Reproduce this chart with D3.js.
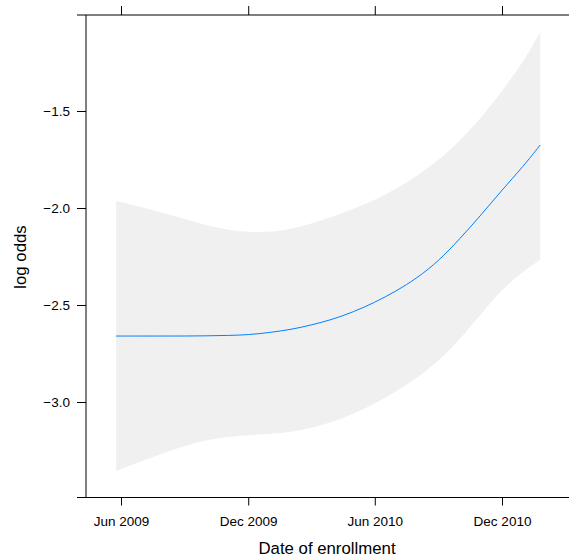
<!DOCTYPE html>
<html>
<head>
<meta charset="utf-8">
<script src="https://cdn.jsdelivr.net/npm/d3@7"></script>
<style>
  html, body { margin: 0; padding: 0; background: #fff; }
  svg { display: block; }
  text { font-family: "Liberation Sans", Arial, sans-serif; fill: #000; }
</style>
</head>
<body>
<svg id="chart" width="569" height="558"></svg>
<script>
// Smoothed effect of enrollment date on log odds, with confidence band
const dates = [
  "2009-05-25", "2009-07-01", "2009-08-01", "2009-09-01", "2009-10-01",
  "2009-11-01", "2009-12-01", "2010-01-01", "2010-02-01", "2010-03-01",
  "2010-04-01", "2010-05-01", "2010-06-01", "2010-07-01", "2010-08-01",
  "2010-09-01", "2010-10-01", "2010-11-01", "2010-12-01", "2011-01-01",
  "2011-01-25"
];
const fit = [
  -2.660, -2.660, -2.660, -2.660, -2.659,
  -2.657, -2.654, -2.642, -2.626, -2.604,
  -2.575, -2.536, -2.487, -2.430, -2.361,
  -2.273, -2.160, -2.036, -1.907, -1.784,
  -1.675
];
const upper = [
  -1.964, -1.995, -2.026, -2.057, -2.088,
  -2.113, -2.124, -2.124, -2.108, -2.082,
  -2.046, -2.005, -1.959, -1.902, -1.835,
  -1.753, -1.655, -1.536, -1.397, -1.247,
  -1.093
];
const lower = [
  -3.356, -3.304, -3.263, -3.227, -3.196,
  -3.180, -3.170, -3.165, -3.155, -3.134,
  -3.103, -3.062, -3.010, -2.948, -2.876,
  -2.789, -2.680, -2.546, -2.418, -2.325,
  -2.268
];
const xTickDates = ["2009-06-01", "2009-12-01", "2010-06-01", "2010-12-01"];
const xTickLabels = ["Jun 2009", "Dec 2009", "Jun 2010", "Dec 2010"];
const yTicks = [-1.5, -2.0, -2.5, -3.0];

const parse = d3.utcParse("%Y-%m-%d");
const rows = dates.map((d, i) => ({ date: parse(d), fit: fit[i], lo: lower[i], hi: upper[i] }));
const xTicks = xTickDates.map(parse);

const svg = d3.select("#chart");
const FONT = '"Liberation Sans", Arial, sans-serif';

const x = d3.scaleUtc()
  .domain([xTicks[0], xTicks[3]])
  .range([121, 502]);
const y = d3.scaleLinear()
  .domain([-1.5, -3.0])
  .range([111, 402]);

const frame = { left: 86, top: 15, bottom: 497.5, lineStart: 77, right: 569 };

// confidence band
svg.append("path")
  .datum(rows)
  .attr("fill", "#f0f0f0")
  .attr("d", d3.area()
    .curve(d3.curveBasis)
    .x(d => x(d.date))
    .y0(d => y(d.lo))
    .y1(d => y(d.hi)));

// fitted curve
svg.append("path")
  .datum(rows)
  .attr("fill", "none")
  .attr("stroke", "#0080ff")
  .attr("stroke-width", 1)
  .attr("d", d3.line()
    .curve(d3.curveBasis)
    .x(d => x(d.date))
    .y(d => y(d.fit)));

// panel border lines
svg.append("line")
  .attr("x1", frame.lineStart).attr("x2", frame.right)
  .attr("y1", frame.top).attr("y2", frame.top)
  .attr("stroke", "#000").attr("stroke-width", 1);
svg.append("line")
  .attr("x1", frame.lineStart).attr("x2", frame.right)
  .attr("y1", frame.bottom).attr("y2", frame.bottom)
  .attr("stroke", "#000").attr("stroke-width", 1);
svg.append("line")
  .attr("x1", frame.left).attr("x2", frame.left)
  .attr("y1", frame.top).attr("y2", frame.bottom)
  .attr("stroke", "#000").attr("stroke-width", 1);

// bottom axis with labels
const xAxis = d3.axisBottom(x)
  .tickValues(xTicks)
  .tickFormat((d, i) => xTickLabels[i])
  .tickSize(8)
  .tickPadding(11)
  .tickSizeOuter(0);
const gx = svg.append("g")
  .attr("transform", `translate(0,${frame.bottom})`)
  .call(xAxis);
gx.select(".domain").remove();
gx.selectAll("line").attr("stroke", "#000");
gx.selectAll("text")
  .style("font-family", FONT)
  .style("font-size", "13.5px")
  .attr("fill", "#000");

// top axis, ticks only
const xTop = d3.axisTop(x)
  .tickValues(xTicks)
  .tickFormat("")
  .tickSize(9)
  .tickSizeOuter(0);
const gt = svg.append("g")
  .attr("transform", `translate(0,${frame.top})`)
  .call(xTop);
gt.select(".domain").remove();
gt.selectAll("line").attr("stroke", "#000");

// left axis
const yAxis = d3.axisLeft(y)
  .tickValues(yTicks)
  .tickFormat(d => d3.format(".1f")(d).replace("-", "\u2212"))
  .tickSize(9)
  .tickPadding(7)
  .tickSizeOuter(0);
const gy = svg.append("g")
  .attr("transform", `translate(${frame.left},0)`)
  .call(yAxis);
gy.select(".domain").remove();
gy.selectAll("line").attr("stroke", "#000");
gy.selectAll("text")
  .style("font-family", FONT)
  .style("font-size", "13.5px")
  .attr("fill", "#000");

// axis titles
svg.append("text")
  .attr("x", 327)
  .attr("y", 554)
  .attr("text-anchor", "middle")
  .style("font-size", "16.8px")
  .text("Date of enrollment");

svg.append("text")
  .attr("transform", "translate(26,257) rotate(-90)")
  .attr("text-anchor", "middle")
  .style("font-size", "16.8px")
  .text("log odds");
</script>
</body>
</html>
